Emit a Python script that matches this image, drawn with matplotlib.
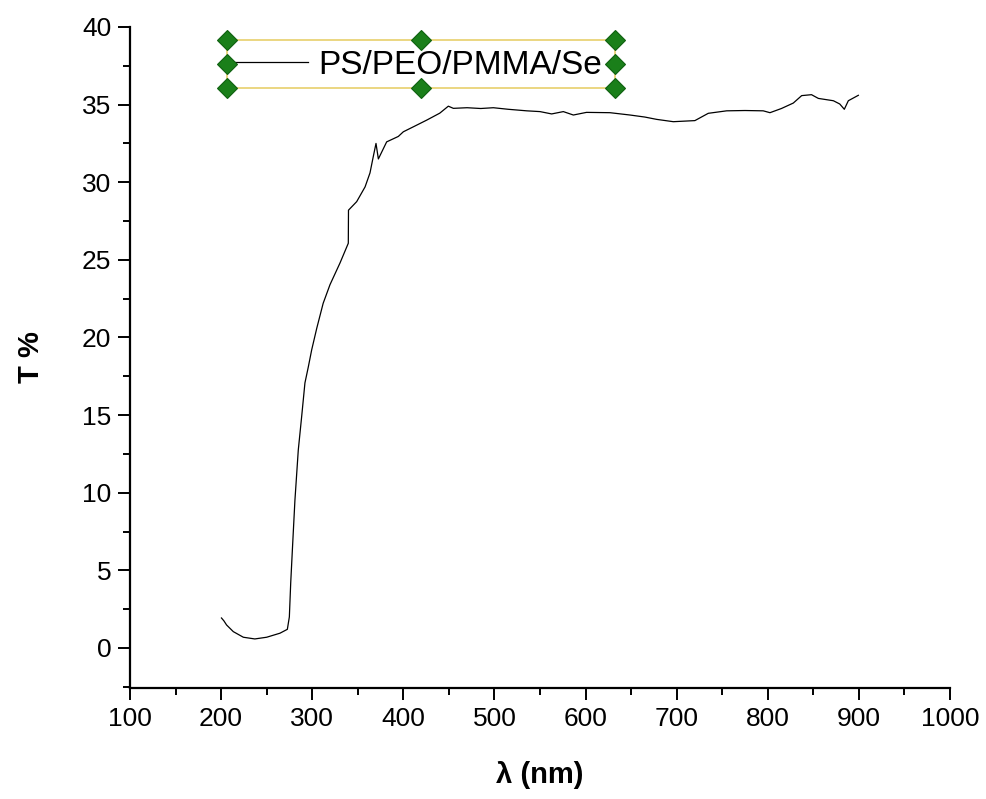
import matplotlib
matplotlib.use("Agg")
import matplotlib.pyplot as plt
from matplotlib.patches import Rectangle
from matplotlib.ticker import MultipleLocator

plt.rcParams['font.family'] = ['Liberation Sans', 'DejaVu Sans']

wavelength = [200.4, 203, 206, 213.4, 224.4, 237, 250, 264.6, 272.7, 274.9, 276.4,
              278.2, 281, 284.7, 288.4, 292, 295.7, 299.4, 305, 312, 319.5, 330.5,
              339.6, 339.8, 348.8, 358, 363.4, 367, 370, 372.6, 381.7, 394.5, 400,
              412, 425.6, 440, 449.4, 454.9, 470, 485, 498.8, 515, 535.4, 550,
              562.8, 575.6, 586.6, 601, 626.8, 648.8, 665, 678, 696.3, 720, 734.7,
              754.9, 775, 795, 802.4, 815, 828, 837.2, 848, 855.5, 872, 879, 884,
              888.4, 899.4]
transmittance = [1.93, 1.75, 1.48, 1.05, 0.69, 0.58, 0.69, 0.95, 1.2, 2.0, 4.2,
                 6.3, 9.5, 12.75, 14.9, 17.07, 18.1, 19.2, 20.6, 22.2, 23.4, 24.8,
                 26.07, 28.2, 28.75, 29.7, 30.6, 31.65, 32.5, 31.5, 32.6, 32.95, 33.25,
                 33.6, 34.0, 34.45, 34.9, 34.76, 34.8, 34.75, 34.8, 34.7, 34.6, 34.55,
                 34.4, 34.55, 34.33, 34.5, 34.48, 34.33, 34.2, 34.05, 33.9, 33.97, 34.44,
                 34.6, 34.62, 34.6, 34.48, 34.75, 35.1, 35.58, 35.64, 35.4, 35.25, 35.04, 34.7,
                 35.25, 35.6]
series_label = "PS/PEO/PMMA/Se"
x_label = "λ (nm)"
y_label = "T %"

fig = plt.figure(figsize=(9.87, 7.99), dpi=100)
ax = fig.add_axes([130/987, 1-688/799, 820/987, 661/799])

ax.plot(wavelength, transmittance, color='black', lw=0.9, label=series_label)
ax.set_xlim(100, 1000)
ax.set_ylim(-2.58, 40)

for s in ['top', 'right']:
    ax.spines[s].set_visible(False)
for s in ['left', 'bottom']:
    ax.spines[s].set_linewidth(1.6)

ax.xaxis.set_major_locator(MultipleLocator(100))
ax.xaxis.set_minor_locator(MultipleLocator(50))
ax.yaxis.set_major_locator(MultipleLocator(5))
ax.yaxis.set_minor_locator(MultipleLocator(2.5))
ax.tick_params(which='major', direction='out', length=8.5, width=1.4, labelsize=19, pad=5)
ax.tick_params(which='minor', direction='out', length=5, width=1.4)

ax.set_xlabel(x_label, fontsize=21, fontweight='bold', labelpad=22)
ax.set_ylabel(y_label, fontsize=21, fontweight='bold')
ax.yaxis.set_label_coords(-0.104, 0.5)

# legend
leg = ax.legend(loc='center left', bbox_to_anchor=((232-130)/820, (688-65)/661),
                frameon=False, handlelength=2.28, handletextpad=0.3, borderpad=0,
                borderaxespad=0, prop={'size': 24})

x0, x1 = (227-130)/820, (615-130)/820
y0, y1 = (688-88)/661, (688-40)/661
ax.add_patch(Rectangle((x0, y0), x1-x0, y1-y0, transform=ax.transAxes, fill=False,
                       edgecolor='#e8cf6c', lw=1.2, clip_on=False, zorder=5))
xm = (x0+x1)/2
ym = (y0+y1)/2
hx = [x0, xm, x1, x0, x1, x0, xm, x1]
hy = [y1, y1, y1, ym, ym, y0, y0, y0]
ax.plot(hx, hy, linestyle='none', marker='D', markersize=10, color='#1a7f1a',
        markeredgecolor='#0f6010', markeredgewidth=0.8, transform=ax.transAxes,
        clip_on=False, zorder=6)

fig.savefig('out.png', dpi=100)
